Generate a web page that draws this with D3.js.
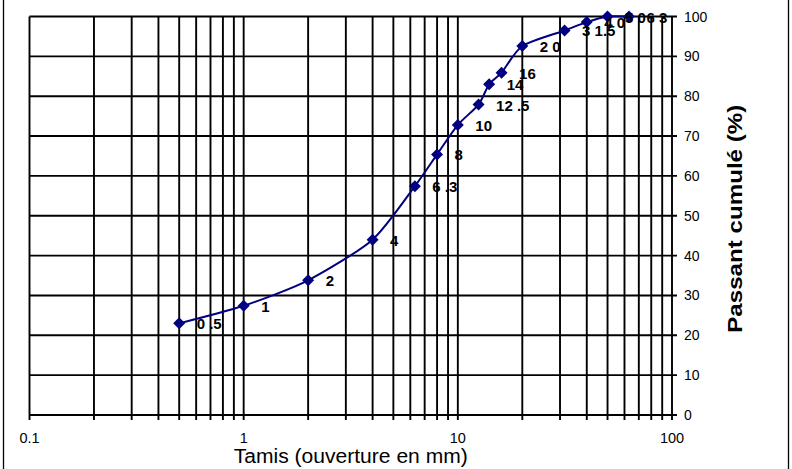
<!DOCTYPE html>
<html>
<head>
<meta charset="utf-8">
<script src="https://cdn.jsdelivr.net/npm/d3@7"></script>
<style>
  body { margin: 0; background: #fff; }
  svg { display: block; font-family: Arial, "Liberation Sans", sans-serif; }
</style>
</head>
<body>
<svg width="792" height="469"></svg>
<script>
// sieve opening (mm) and cumulative passing (%)
var sieves = [0.5, 1, 2, 4, 6.3, 8, 10, 12.5, 14, 16, 20, 31.5, 40, 50, 63];
var passing = [23, 27.4, 33.8, 44, 57.4, 65.4, 72.8, 77.9, 83, 85.9, 92.6, 96.5, 98.6, 100, 100];
var pointLabels = ["0 .5", "1", "2", "4", "6 .3", "8", "10", "12 .5", "14", "16", "2 0", "3 1.5", "4 0", "5 0", "6 3"];
var xTickLabels = ["0.1", "1", "10", "100"];
var yTicks = [0, 10, 20, 30, 40, 50, 60, 70, 80, 90, 100];

var svg = d3.select("svg"),
  plotLeft = 29.5, plotRight = 672, plotTop = 16.5, plotBottom = 415;

var x = d3.scaleLog().domain([0.1, 100]).range([plotLeft, plotRight]),
  y = d3.scaleLinear().domain([0, 100]).range([plotBottom, plotTop]);

// frame lines left and right
svg.append("line").attr("x1", 3.5).attr("x2", 3.5).attr("y1", 0).attr("y2", 469)
  .attr("stroke", "#000").attr("stroke-width", 1.3);
svg.append("line").attr("x1", 788.5).attr("x2", 788.5).attr("y1", 0).attr("y2", 469)
  .attr("stroke", "#000").attr("stroke-width", 1.3);

// minor positions 1..9 per decade
var xGrid = [];
[0.1, 1, 10].forEach(function (dec) {
  for (var i = 1; i < 10; i++) xGrid.push(dec * i);
});
xGrid.push(100);

var grid = svg.append("g").attr("stroke", "#000").attr("stroke-width", 1.9);
grid.selectAll(".vg").data(xGrid).enter().append("line")
  .attr("x1", d => x(d)).attr("x2", d => x(d))
  .attr("y1", plotTop).attr("y2", plotBottom + 5);
grid.selectAll(".hg").data(yTicks).enter().append("line")
  .attr("x1", plotLeft).attr("x2", plotRight + 5)
  .attr("y1", d => y(d)).attr("y2", d => y(d));

// x tick labels
svg.append("g").selectAll("text").data(xTickLabels).enter().append("text")
  .attr("x", d => x(+d)).attr("y", 443)
  .attr("text-anchor", "middle").attr("font-size", 14.5)
  .text(d => d);

// y tick labels on the right
svg.append("g").selectAll("text").data(yTicks).enter().append("text")
  .attr("x", 684).attr("y", d => y(d) + 5)
  .attr("font-size", 14)
  .text(d => d);

// axis titles
svg.append("text").attr("x", (plotLeft + plotRight) / 2).attr("y", 463)
  .attr("text-anchor", "middle").attr("font-size", 19.5)
  .attr("textLength", 234).attr("lengthAdjust", "spacingAndGlyphs")
  .text("Tamis (ouverture en mm)");
svg.append("text")
  .attr("transform", "translate(742," + ((plotTop + plotBottom) / 2 + 3) + ") rotate(-90)")
  .attr("text-anchor", "middle").attr("font-size", 20).attr("font-weight", "bold")
  .attr("textLength", 228).attr("lengthAdjust", "spacingAndGlyphs")
  .text("Passant cumulé (%)");

var pts = sieves.map((s, i) => [x(s), y(passing[i])]);

svg.append("path")
  .attr("d", d3.line().curve(d3.curveCardinal.tension(0.3))(pts))
  .attr("fill", "none").attr("stroke", "#000080").attr("stroke-width", 2);

svg.append("g").selectAll("path").data(pts).enter().append("path")
  .attr("d", d => "M" + d[0] + "," + (d[1] - 6) + "L" + (d[0] + 6) + "," + d[1]
    + "L" + d[0] + "," + (d[1] + 6) + "L" + (d[0] - 6) + "," + d[1] + "Z")
  .attr("fill", "#000080");

svg.append("g").selectAll("text").data(pts).enter().append("text")
  .attr("x", d => d[0] + 17.5).attr("y", d => d[1] + 6)
  .attr("font-size", 15).attr("font-weight", "bold")
  .text((d, i) => pointLabels[i]);
</script>
</body>
</html>
